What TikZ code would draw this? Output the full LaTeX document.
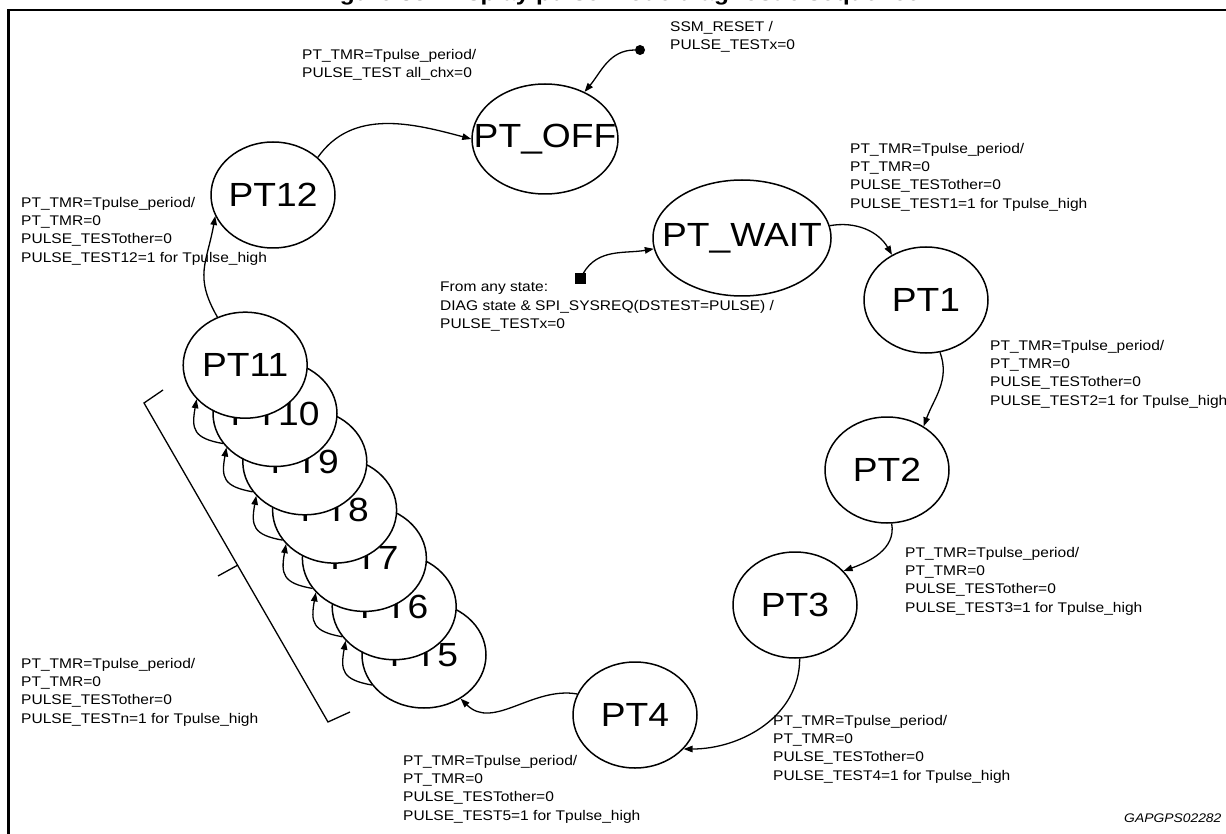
\documentclass[tikz,border=0pt]{standalone}
\usepackage{fontspec}
\setmainfont{Liberation Sans}[FakeStretch=1.11]
\usetikzlibrary{arrows.meta,shapes.geometric,positioning}

\begin{document}
\begin{tikzpicture}[x=1pt, y=1pt, >={Triangle[length=9pt,width=6.5pt]},
  state/.style={ellipse, draw, line width=1.5pt, fill=white, inner sep=0pt,
    minimum width=124pt, minimum height=106pt,
    label={[font=\fontsize{33.5}{33.5}\selectfont]center:#1}},
  note/.style={align=left, anchor=north west, inner sep=0pt, font=\fontsize{14}{18.3}\selectfont},
  arr/.style={->, line width=1.3pt}]
  \useasboundingbox (0,0) rectangle (1226,-834);
  \clip (0,0) rectangle (1226,-834);

  % Frame and figure title
  \draw[line width=2.7pt] (1240,-10) -- (8.7,-10) -- (8.7,-850);
  \node[anchor=base west, inner sep=0pt, font=\fontsize{22}{22}\selectfont\bfseries] (title) at (318,-1) {Figure 38. Display pulse mode diagnostic sequence};

  % Main states
  \node[state=PT\_OFF, minimum width=146pt, minimum height=110pt] (off) at (545,-139) {};
  \node[state=PT12] (pt12) at (273,-195) {};
  \node[state=PT\_WAIT, minimum width=178pt, minimum height=116pt] (wait) at (742,-238) {};
  \node[state=PT1] (pt1) at (926,-300) {};
  \node[state=PT2] (pt2) at (887,-470) {};
  \node[state=PT3] (pt3) at (795,-605) {};
  \node[state=PT4] (pt4) at (635,-715) {};

  % Stack PT5 ... PT11, PT11 on top
  \foreach \n [count=\k from 0] in {5,...,11}
    \node[state=PT\n] (pt\n) at ({424-29.8*\k},{-655+48.3*\k}) {};

  % Entry points
  \node[circle, fill, inner sep=0pt, minimum size=10pt] (reset) at (640,-50) {};
  \node[fill, inner sep=0pt, minimum size=11pt] (anystate) at (580,-279) {};

  % Transitions
  \draw[arr] (reset) to[out=180, in=50] (off.50);
  \draw[arr] (anystate) to[out=60, in=190] (wait.187);
  \draw[arr] (pt12.40) to[out=55, in=165] (off.180);
  \draw[arr] (wait.8) to[out=10, in=120] (pt1.127);
  \draw[arr] (pt1.-75) to[out=-70, in=70] (pt2.50);
  \draw[arr] (pt2.-85) to[out=-80, in=20] (pt3.35);
  \draw[arr] (pt3.-85) to[out=-90, in=0] (pt4.-35);
  \draw[arr] (pt4.160) to[out=170, in=-45] (pt5.-50);
  \foreach \n in {5,...,10}{
    \pgfmathtruncatemacro\m{\n+1}
    \draw[arr] (pt\n.210) to[out=170, in=-100, looseness=1.5] (pt\m.215);
  }
  \draw[arr] (pt11.120) to[out=120, in=-100, looseness=1.2] (pt12.200);

  % Brace along the stack
  \draw[line width=1.3pt] (163,-390) -- (144,-403) -- (328,-722) -- (350,-712);
  \draw[line width=1.3pt] (238,-565) -- (218,-576);

  % Transition texts
  \node[note] (rstnote) at (670,-21) {SSM\_RESET /\\PULSE\_TESTx=0};
  \node[note] (offnote) at (302,-49) {PT\_TMR=Tpulse\_period/\\PULSE\_TEST all\_chx=0};
  \node[note] (w1note) at (850,-143) {PT\_TMR=Tpulse\_period/\\PT\_TMR=0\\PULSE\_TESTother=0\\PULSE\_TEST1=1 for Tpulse\_high};
  \node[note] (anynote) at (440,-282) {From any state:\\DIAG state \& SPI\_SYSREQ(DSTEST=PULSE) /\\PULSE\_TESTx=0};
  \node[note] (n12note) at (990,-340) {PT\_TMR=Tpulse\_period/\\PT\_TMR=0\\PULSE\_TESTother=0\\PULSE\_TEST2=1 for Tpulse\_high};
  \node[note] (n23note) at (905,-547) {PT\_TMR=Tpulse\_period/\\PT\_TMR=0\\PULSE\_TESTother=0\\PULSE\_TEST3=1 for Tpulse\_high};
  \node[note] (n34note) at (773,-715) {PT\_TMR=Tpulse\_period/\\PT\_TMR=0\\PULSE\_TESTother=0\\PULSE\_TEST4=1 for Tpulse\_high};
  \node[note] (n45note) at (403,-755) {PT\_TMR=Tpulse\_period/\\PT\_TMR=0\\PULSE\_TESTother=0\\PULSE\_TEST5=1 for Tpulse\_high};
  \node[note] (n1112note) at (21,-197) {PT\_TMR=Tpulse\_period/\\PT\_TMR=0\\PULSE\_TESTother=0\\PULSE\_TEST12=1 for Tpulse\_high};
  \node[note] (stacknote) at (21,-658) {PT\_TMR=Tpulse\_period/\\PT\_TMR=0\\PULSE\_TESTother=0\\PULSE\_TESTn=1 for Tpulse\_high};
  \node[anchor=base west, inner sep=0pt, font=\fontsize{12.5}{12.5}\selectfont\itshape] (figid) at (1124,-822) {GAPGPS02282};
\end{tikzpicture}
\end{document}
